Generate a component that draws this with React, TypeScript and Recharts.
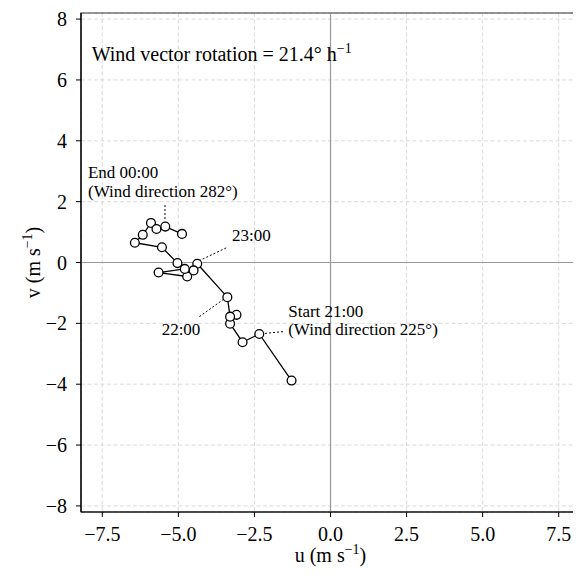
import {
  ScatterChart,
  Scatter,
  XAxis,
  YAxis,
  CartesianGrid,
  ReferenceLine,
  ReferenceArea,
  ReferenceDot,
  Label,
} from 'recharts';

// hodograph, 21:00 -> 00:00
const uValues = [
  -1.28, -2.34, -2.89, -3.3, -3.09, -3.3, -3.39, -4.38, -4.5, -4.71,
  -5.65, -4.79, -5.03, -5.54, -6.43, -6.17, -5.9, -5.72, -5.43, -4.88,
];
const vValues = [
  -3.88, -2.35, -2.62, -2.01, -1.72, -1.78, -1.14, -0.04, -0.26, -0.46,
  -0.33, -0.21, -0.02, 0.5, 0.65, 0.91, 1.3, 1.1, 1.18, 0.94,
];

const xTicks = [-7.5, -5, -2.5, 0, 2.5, 5, 7.5];
const yTicks = [-8, -6, -4, -2, 0, 2, 4, 6, 8];
const LIM = 8.2;

const points = uValues.map((u, i) => ({ u, v: vValues[i] }));

// annotation text (left / baseline of first line) and dotted leaders
const notes = [
  { u: -7.97, v: 2.77, lines: ['End 00:00', '(Wind direction 282°)'] },
  { u: -3.24, v: 0.71, lines: ['23:00'] },
  { u: -5.55, v: -2.38, lines: ['22:00'] },
  { u: -1.39, v: -1.78, lines: ['Start 21:00', '(Wind direction 225°)'] },
];
const leaders = [
  [{ x: -5.44, y: 1.89 }, { x: -5.44, y: 1.36 }],
  [{ x: -3.43, y: 0.48 }, { x: -4.29, y: 0.07 }],
  [{ x: -4.31, y: -1.78 }, { x: -3.53, y: -1.22 }],
  [{ x: -2.15, y: -2.33 }, { x: -1.53, y: -2.27 }],
];

const FONT = '"Liberation Serif", "DejaVu Serif", serif';

const fmtMinus = (s: string) => s.replace('-', '\u2212');

function Marker(props: any) {
  const { cx, cy } = props;
  return <circle cx={cx} cy={cy} r={4.4} fill="#fff" stroke="#000" strokeWidth={1.3} />;
}

function XTick(props: any) {
  const { x, y, payload } = props;
  return (
    <text x={x} y={y} dy="0.71em" textAnchor="middle" fontSize={20} fontFamily={FONT} fill="#000">
      {fmtMinus(Number(payload.value).toFixed(1))}
    </text>
  );
}

function YTick(props: any) {
  const { x, y, payload } = props;
  return (
    <text x={x} y={y} dy="0.355em" textAnchor="end" fontSize={20} fontFamily={FONT} fill="#000">
      {fmtMinus(String(payload.value))}
    </text>
  );
}

export default function App() {
  return (
    <div style={{ width: 573, height: 562, fontFamily: FONT }}>
      <ScatterChart
        width={573}
        height={562}
        margin={{ top: 5, right: 1, left: 0, bottom: 0 }}
      >
        <CartesianGrid
          stroke="#d2d2d2"
          strokeWidth={0.8}
          strokeDasharray="4 2.5"
        />
        <XAxis
          type="number"
          dataKey="u"
          domain={[-LIM, LIM]}
          ticks={xTicks}
          allowDataOverflow
          height={58}
          tickSize={5}
          tickMargin={10}
          tick={<XTick />}
          tickLine={{ stroke: '#000' }}
          axisLine={{ stroke: '#000', strokeWidth: 1.2 }}
        >
          <Label
            content={(p: any) => {
              const vb = p.viewBox;
              return (
                <text
                  x={vb.x + vb.width / 2}
                  y={vb.y + 50}
                  textAnchor="middle"
                  fontSize={20}
                  fontFamily={FONT}
                  fill="#000"
                >
                  u (m s<tspan dy={-8} fontSize={14}>{'\u22121'}</tspan>
                  <tspan dy={8}>)</tspan>
                </text>
              );
            }}
          />
        </XAxis>
        <YAxis
          type="number"
          dataKey="v"
          domain={[-LIM, LIM]}
          ticks={yTicks}
          allowDataOverflow
          width={73}
          tickSize={5}
          tickMargin={9}
          tick={<YTick />}
          tickLine={{ stroke: '#000' }}
          axisLine={{ stroke: '#000', strokeWidth: 1.2 }}
        >
          <Label
            content={(p: any) => {
              const vb = p.viewBox;
              const cx = 25;
              const cy = vb.y + vb.height / 2;
              return (
                <text
                  x={cx}
                  y={cy}
                  dy={7}
                  textAnchor="middle"
                  fontSize={20}
                  fontFamily={FONT}
                  fill="#000"
                  transform={`rotate(-90 ${cx} ${cy})`}
                >
                  v (m s<tspan dy={-8} fontSize={14}>{'\u22121'}</tspan>
                  <tspan dy={8}>)</tspan>
                </text>
              );
            }}
          />
        </YAxis>

        <ReferenceLine x={0} stroke="#9a9a9a" strokeWidth={1.2} />
        <ReferenceLine y={0} stroke="#9a9a9a" strokeWidth={1.2} />
        <ReferenceArea
          x1={-LIM}
          x2={LIM}
          y1={-LIM}
          y2={LIM}
          fill="none"
          stroke="#333"
          strokeWidth={1.2}
          fillOpacity={0}
        />

        {leaders.map((seg, i) => (
          <ReferenceLine
            key={'l' + i}
            segment={seg}
            stroke="#000"
            strokeWidth={1}
            strokeDasharray="2 2"
          />
        ))}

        <Scatter
          data={points}
          line={{ stroke: '#000', strokeWidth: 1.3 }}
          lineJointType="linear"
          shape={<Marker />}
          isAnimationActive={false}
        />

        <ReferenceDot
          x={-7.85}
          y={6.63}
          r={0}
          shape={(p: any) => (
            <text x={p.cx} y={p.cy} fontSize={20} fontFamily={FONT} fill="#000">
              Wind vector rotation = 21.4° h
              <tspan dy={-8} fontSize={14}>{'\u22121'}</tspan>
            </text>
          )}
        />
        {notes.map((n, i) => (
          <ReferenceDot
            key={'n' + i}
            x={n.u}
            y={n.v}
            r={0}
            shape={(p: any) => (
              <text x={p.cx} y={p.cy} fontSize={17} fontFamily={FONT} fill="#000">
                {n.lines.map((t, j) => (
                  <tspan key={j} x={p.cx} dy={j === 0 ? 0 : 18.5}>
                    {t}
                  </tspan>
                ))}
              </text>
            )}
          />
        ))}
      </ScatterChart>
    </div>
  );
}
